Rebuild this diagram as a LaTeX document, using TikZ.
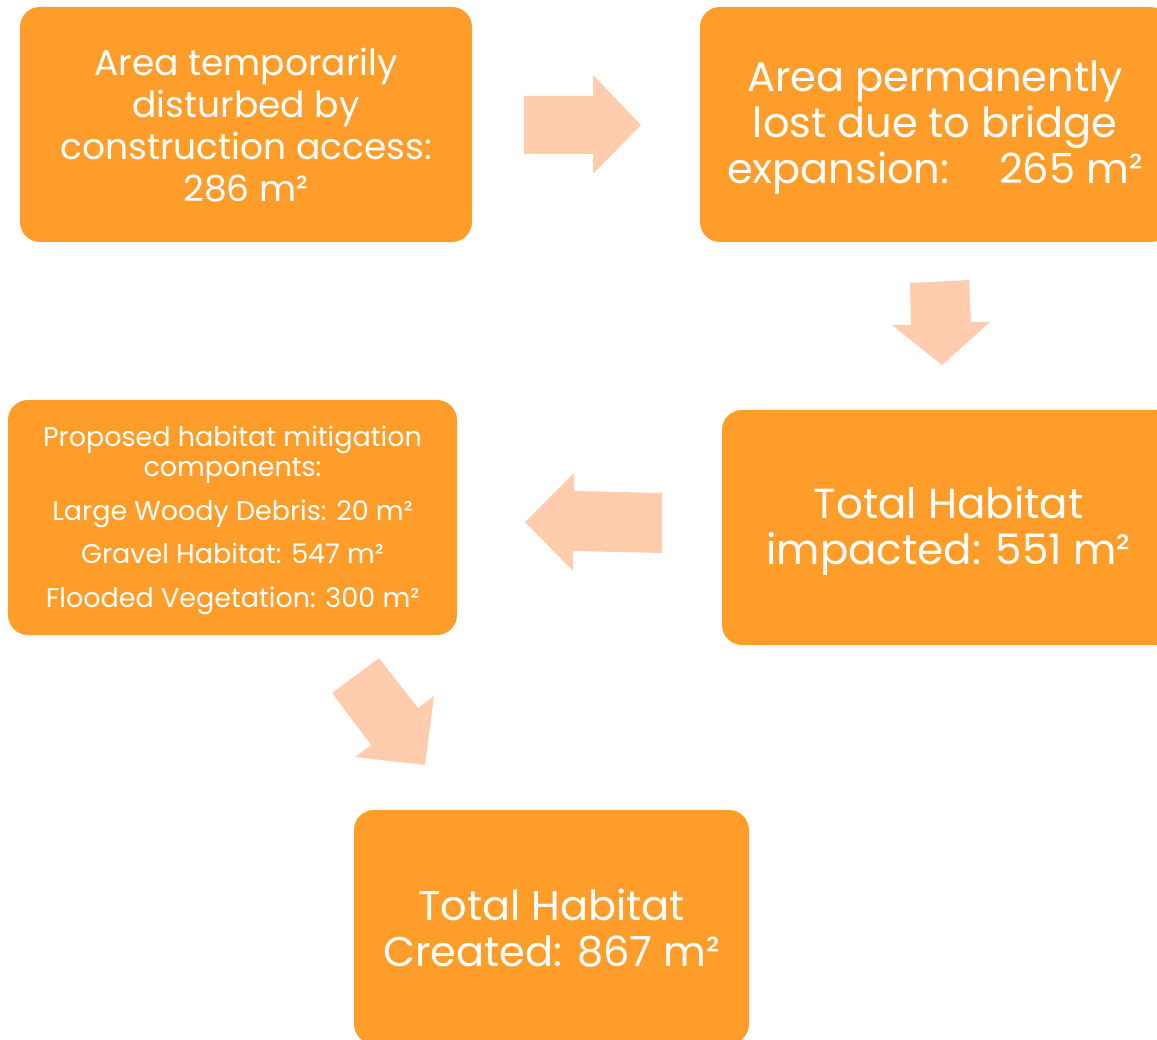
\documentclass[tikz,border=0pt]{standalone}
\usepackage{fontspec}
\setmainfont{Poppins}
\definecolor{boxorange}{HTML}{FE9D2A}
\definecolor{arrowpeach}{HTML}{FFCCAE}
\begin{document}
\begin{tikzpicture}[x=1pt,y=-1pt,
  box/.style={fill=boxorange, rounded corners=20pt, inner sep=0pt},
  boxtext/.style={text=white, align=center, inner sep=0pt},
  blockarrow/.style={fill=arrowpeach, draw=none}]
\useasboundingbox (0,0) rectangle (1157,1040);
\clip (0,0) rectangle (1157,1040);
% boxes
\node[box, minimum width=452pt, minimum height=235pt] (b1) at (246,124.5) {};
\node[boxtext, font=\fontsize{36}{42}\selectfont] (t1) at ([yshift=-1pt]b1.center)
  {Area temporarily\\disturbed by\\construction access:\\286 m²};
\node[box, minimum width=470pt, minimum height=235pt] (b2) at (935,124.5) {};
\node[boxtext, font=\fontsize{41.5}{46}\selectfont] (t2) at ([yshift=-3pt]b2.center)
  {Area permanently\\lost due to bridge\\expansion:\hspace{1.2em}265 m²};
\node[box, minimum width=453pt, minimum height=235pt] (b3) at (948.5,527.5) {};
\node[boxtext, font=\fontsize{42}{46}\selectfont] (t3) at ([yshift=-3pt]b3.center)
  {Total Habitat\\impacted: 551 m²};
\node[box, minimum width=449pt, minimum height=235pt] (b4) at (232.5,517.5) {};
\node[boxtext, font=\fontsize{27}{30}\selectfont] (t4) at ([yshift=-3pt]b4.center)
  {Proposed habitat mitigation\\components:\\[13.5pt]Large Woody Debris: 20 m²\\[13.5pt]Gravel Habitat: 547 m²\\[13.5pt]Flooded Vegetation: 300 m²};
\node[box, minimum width=395pt, minimum height=234pt] (b5) at (551.5,927) {};
\node[boxtext, font=\fontsize{41.5}{46}\selectfont] (t5) at ([yshift=-1pt]b5.center)
  {Total Habitat\\Created: 867 m²};
% block arrows
\fill[blockarrow] (524,96) -- (593,96) -- (593,75) -- (641,125) -- (593,174) -- (593,154) -- (524,154) -- cycle;
\fill[blockarrow] (910,283) -- (969,280) -- (971,322) -- (990,322) -- (942,365) -- (892,325) -- (911,325) -- cycle;
\fill[blockarrow] (662,493) -- (662,553) -- (573,551) -- (573,571) -- (525,522) -- (574,473) -- (574,491) -- cycle;
\fill[blockarrow] (379,658) -- (418,708) -- (434,696) -- (425,765) -- (355,757) -- (371,745) -- (332,693) -- cycle;
\end{tikzpicture}
\end{document}
